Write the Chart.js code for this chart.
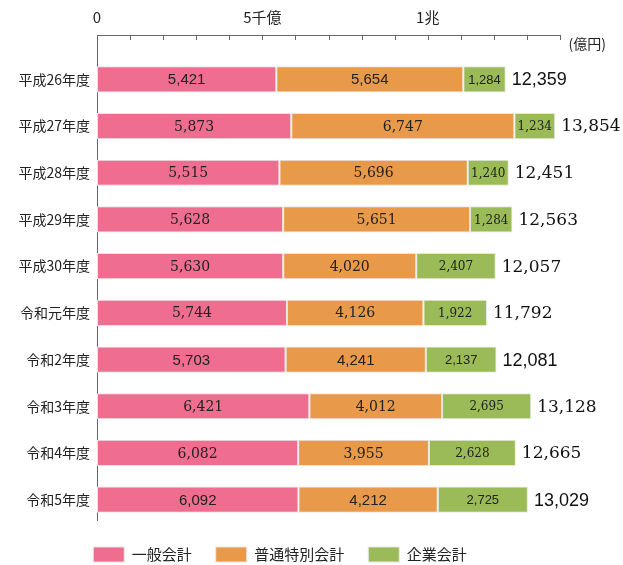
<!DOCTYPE html>
<html>
<head>
<meta charset="utf-8">
<script src="https://cdn.jsdelivr.net/npm/chart.js@4/dist/chart.umd.min.js"></script>
<style>
  html, body { margin: 0; padding: 0; background: #fff; }
  #wrap { width: 623px; height: 565px; }
</style>
</head>
<body>
<div id="wrap"><canvas id="chart-accounts"></canvas></div>
<script>
// 年度ごとの会計別の額（億円）
const years = ['平成26年度','平成27年度','平成28年度','平成29年度','平成30年度','令和元年度','令和2年度','令和3年度','令和4年度','令和5年度']
const general = [5421, 5873, 5515, 5628, 5630, 5744, 5703, 6421, 6082, 6092]
const special = [5654, 6747, 5696, 5651, 4020, 4126, 4241, 4012, 3955, 4212]
const enterprise = [1284, 1234, 1240, 1284, 2407, 1922, 2137, 2695, 2628, 2725]
const totals = [12359, 13854, 12451, 12563, 12057, 11792, 12081, 13128, 12665, 13029]
const seriesNames = ['一般会計', '普通特別会計', '企業会計']
const tickValues = [0, 5000, 10000]
const tickNames = ['0', '5千億', '1兆']
const unitLabel = '(億円)'

const SANS = '"Noto Sans CJK JP", "Noto Sans", sans-serif'
const SERIF = '"DejaVu Serif", "Liberation Serif", serif'
const ARIAL = '"Liberation Sans", Arial, sans-serif'
const AXIS_Y = 35
// rows whose figures are set in a sans face in the original
const sansRows = [0, 6, 9]

function fmt(v){
  return v.toLocaleString('en-US')
}

var labelPlugin = {
  id: 'labels',
  afterInit: function(chart){
    var legend = chart.legend
    var fit = legend.fit
    legend.fit = function(){
      fit.call(this)
      this.height = 42
    }
  },
  beforeDatasetsDraw: function(chart){
    var ctx = chart.ctx
    var x = chart.scales.x
    var area = chart.chartArea
    ctx.save()
    ctx.strokeStyle = '#666'
    ctx.lineWidth = 1
    ctx.beginPath()
    ctx.moveTo(area.left, AXIS_Y + 0.5)
    ctx.lineTo(x.getPixelForValue(x.max), AXIS_Y + 0.5)
    ctx.moveTo(area.left + 0.5, AXIS_Y)
    ctx.lineTo(area.left + 0.5, area.bottom - 2)
    for (let v = x.min; v <= x.max; v += 1000){
      var px = Math.round(x.getPixelForValue(v)) + 0.5
      ctx.moveTo(px, AXIS_Y)
      ctx.lineTo(px, AXIS_Y + 5)
    }
    ctx.stroke()
    ctx.restore()
  },
  afterDatasetsDraw: function(chart){
    var ctx = chart.ctx
    ctx.save()
    ctx.textAlign = 'center'
    ctx.textBaseline = 'middle'
    chart.data.datasets.forEach((ds, i) => {
      var meta = chart.getDatasetMeta(i)
      meta.data.forEach((bar, j) => {
        var cx = (bar.x + bar.base) / 2
        var sans = sansRows.indexOf(j) >= 0
        var face = sans ? ARIAL : SERIF
        var size = i == 2 ? (sans ? 13 : 12) : (sans ? 15 : 14)
        ctx.fillStyle = '#222'
        ctx.font = size + 'px ' + face
        ctx.fillText(fmt(ds.data[j]), cx, bar.y + 1)
      })
    })
    var last = chart.getDatasetMeta(2)
    ctx.textAlign = 'left'
    ctx.fillStyle = '#111'
    last.data.forEach((bar, j) => {
      var face = sansRows.indexOf(j) >= 0 ? ARIAL : SERIF
      ctx.font = (face == ARIAL ? '18px ' : '17px ') + face
      ctx.fillText(fmt(totals[j]), bar.x + 6, bar.y + 1)
    })
    ctx.font = '14px ' + SANS
    ctx.fillStyle = '#222'
    ctx.textAlign = 'right'
    ctx.fillText(unitLabel, 606, 44)
    ctx.restore()
  }
}

var barStyle = {
  borderColor: '#e6e6e6',
  borderWidth: 1,
  borderSkipped: false,
  barPercentage: 0.56,
  categoryPercentage: 1.0
}

var accountChart = new Chart(document.getElementById('chart-accounts'), {
  type: 'bar',
  data: {
    labels: years,
    datasets: [
      Object.assign({label: seriesNames[0], data: general, backgroundColor: '#ef6e8f'}, barStyle),
      Object.assign({label: seriesNames[1], data: special, backgroundColor: '#e8994a'}, barStyle),
      Object.assign({label: seriesNames[2], data: enterprise, backgroundColor: '#9bbb59'}, barStyle)
    ]
  },
  options: {
    indexAxis: 'y',
    responsive: true,
    maintainAspectRatio: false,
    animation: false,
    layout: { padding: { left: 0, right: 63, top: 0, bottom: 0 } },
    plugins: {
      tooltip: { enabled: false },
      legend: {
        position: 'bottom',
        labels: {
          boxWidth: 31,
          boxHeight: 15,
          padding: 24,
          color: '#222',
          font: { family: SANS, size: 15 }
        }
      }
    },
    scales: {
      x: {
        position: 'top',
        stacked: true,
        min: 0,
        max: 14000,
        afterFit: function(scale){ scale.height = 56 },
        grid: { display: false, drawTicks: false },
        border: { display: false },
        ticks: {
          stepSize: 1000,
          padding: 30,
          autoSkip: false,
          maxRotation: 0,
          color: '#222',
          font: { family: SANS, size: 15 },
          callback: function(v){
            var k = tickValues.indexOf(v)
            return k >= 0 ? tickNames[k] : ''
          }
        }
      },
      y: {
        stacked: true,
        afterFit: function(scale){ scale.width = 97 },
        grid: { display: false, drawTicks: false },
        border: { display: false },
        ticks: {
          padding: 7,
          color: '#222',
          font: { family: SANS, size: 14 }
        }
      }
    }
  },
  plugins: [labelPlugin]
})
</script>
</body>
</html>
